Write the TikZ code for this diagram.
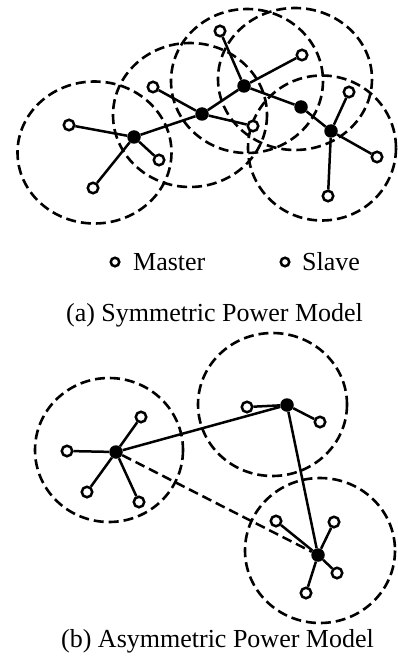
\documentclass[tikz,border=0pt]{standalone}
\usepackage{fontspec}
\setmainfont{Liberation Serif}
\begin{document}
\begin{tikzpicture}[x=1pt,y=-1pt,
  slave/.style={circle,draw,line width=2.5pt,fill=white,inner sep=0pt,minimum size=10.5pt},
  legendnode/.style={circle,draw,line width=2.5pt,fill=white,inner sep=0pt,minimum size=8.5pt},
  master/.style={circle,fill=black,inner sep=0pt,minimum size=13.5pt},
  zone/.style={line width=2.6pt,dash pattern=on 10pt off 5pt},
  link/.style={line width=2.5pt},
  dlink/.style={line width=2.5pt,dash pattern=on 10pt off 5pt},
  lbl/.style={font=\fontsize{26}{30}\selectfont,inner sep=0pt,anchor=base west},
  captext/.style={font=\fontsize{26}{30}\selectfont,inner sep=0pt,anchor=base}]
\useasboundingbox (0,0) rectangle (398,663);

% ---------- (a) symmetric ----------
\draw[zone] (94.5,152.5) ellipse [x radius=77, y radius=71];
\draw[zone] (190,115) ellipse [x radius=77, y radius=72];
\draw[zone] (247,81) ellipse [x radius=76, y radius=72];
\draw[zone] (295,79) ellipse [x radius=77, y radius=71];
\draw[zone] (322,148) ellipse [x radius=74, y radius=72.5];

\node[master] (m1) at (134,137) {};
\node[master] (m2) at (202,114) {};
\node[master] (m3) at (244,86) {};
\node[master] (m4) at (301,107) {};
\node[master] (m5) at (331,131) {};

\node[slave] (s1a) at (69,125) {};
\node[slave] (s1b) at (159,160) {};
\node[slave] (s1c) at (93,188) {};
\node[slave] (s2a) at (153,87) {};
\node[slave] (s2b) at (253,126) {};
\node[slave] (s3a) at (220,31) {};
\node[slave] (s3b) at (302,55) {};
\node[slave] (s5a) at (349,92) {};
\node[slave] (s5b) at (377,157) {};
\node[slave] (s5c) at (328,196) {};

\draw[link] (m1) -- (m2) -- (m3) -- (m4) -- (m5);
\draw[link] (m1) -- (s1a);
\draw[link] (m1) -- (s1b);
\draw[link] (m1) -- (s1c);
\draw[link] (m2) -- (s2a);
\draw[link] (m2) -- (s2b);
\draw[link] (m3) -- (s3a);
\draw[link] (m3) -- (s3b);
\draw[link] (m5) -- (s5a);
\draw[link] (m5) -- (s5b);
\draw[link] (m5) -- (s5c);

\node[legendnode] (legm) at (115,262) {};
\node[lbl] (legmt) at (133,270) {Master};
\node[legendnode] (legs) at (285,262) {};
\node[lbl] (legst) at (302,270) {Slave};

\node[captext] (capa) at (214.5,321) {(a) Symmetric Power Model};

% ---------- (b) asymmetric ----------
\draw[zone] (109,450) ellipse [x radius=74, y radius=72];
\draw[zone] (272.5,404.5) ellipse [x radius=74.5, y radius=71.5];
\draw[zone] (320,550.5) ellipse [x radius=75, y radius=72.5];

\node[master] (ma) at (116,452) {};
\node[master] (mb) at (287,405) {};
\node[master] (mc) at (318,555) {};

\node[slave] (saa) at (67,451) {};
\node[slave] (sab) at (141,417) {};
\node[slave] (sac) at (87,492) {};
\node[slave] (sad) at (139,502) {};
\node[slave] (sba) at (247,407) {};
\node[slave] (sbb) at (320,422) {};
\node[slave] (sca) at (276,521) {};
\node[slave] (scb) at (334,522) {};
\node[slave] (scc) at (337,573) {};
\node[slave] (scd) at (306,593) {};

\draw[link] (ma) -- (mb) -- (mc);
\draw[dlink] (ma) -- (mc);
\draw[link] (ma) -- (saa);
\draw[link] (ma) -- (sab);
\draw[link] (ma) -- (sac);
\draw[link] (ma) -- (sad);
\draw[link] (mb) -- (sba);
\draw[link] (mb) -- (sbb);
\draw[link] (mc) -- (sca);
\draw[link] (mc) -- (scb);
\draw[link] (mc) -- (scc);
\draw[link] (mc) -- (scd);

\node[captext] (capb) at (217.5,647) {(b) Asymmetric Power Model};
\end{tikzpicture}
\end{document}
